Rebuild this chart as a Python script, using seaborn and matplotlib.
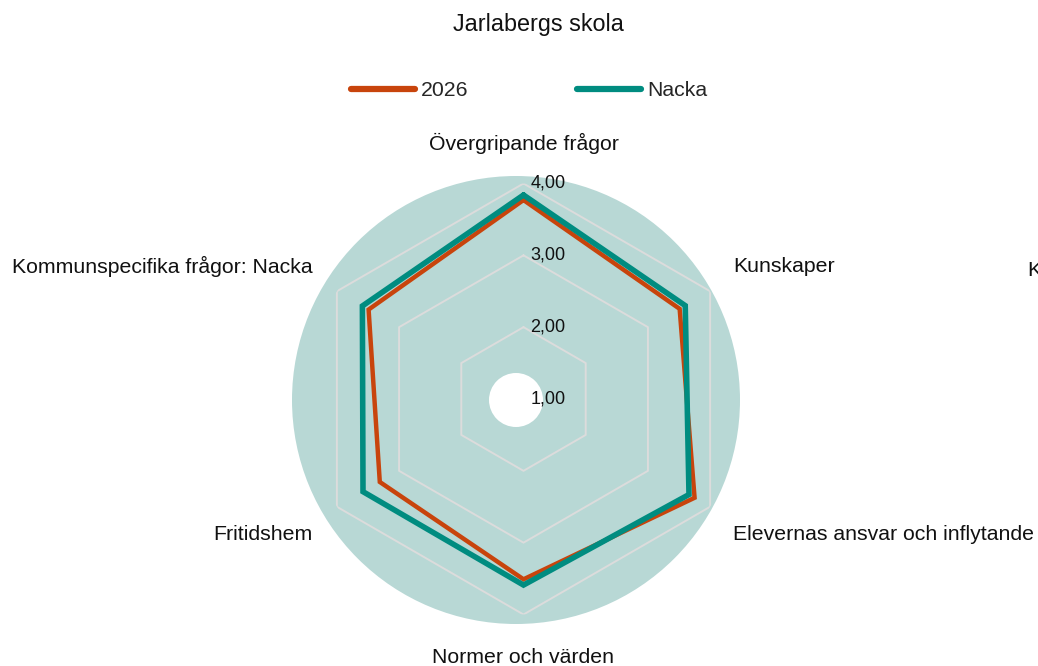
import numpy as np
import pandas as pd
import matplotlib
matplotlib.use("Agg")
import matplotlib.pyplot as plt
from matplotlib.patches import Circle
import seaborn as sns

# data
kategorier = ["Övergripande frågor", "Kunskaper", "Elevernas ansvar och inflytande",
              "Normer och värden", "Fritidshem", "Kommunspecifika frågor: Nacka"]
skola_2026 = [3.77, 3.51, 3.75, 3.51, 3.31, 3.49]
nacka = [3.84, 3.60, 3.66, 3.59, 3.58, 3.59]
r_ticks = [1, 2, 3, 4]
r_labels = ["1,00", "2,00", "3,00", "4,00"]

sns.set_theme(style="white")
plt.rcParams["font.family"] = ["Liberation Sans", "DejaVu Sans"]

ORANGE = "#c8440c"
TEAL = "#008c80"
BG = "#b8d8d5"
GRID = "#dcdcdc"

fig = plt.figure(figsize=(10.38, 6.66), dpi=100)

# bakgrundscirkel med hål i mitten
fig.add_artist(Circle((5.16, 2.66), 2.24, transform=fig.dpi_scale_trans,
                      facecolor=BG, edgecolor="none", zorder=-2))
fig.add_artist(Circle((5.16, 2.66), 0.27, transform=fig.dpi_scale_trans,
                      facecolor="white", edgecolor="none", zorder=-1))

R = 215.5
cx, cy = 523.5, 399
ax = fig.add_axes([(cx - R) / 1038, (666 - cy - R) / 666, 2 * R / 1038, 2 * R / 666],
                  projection="polar")
ax.set_facecolor("none")
ax.set_theta_offset(np.pi / 2)
ax.set_theta_direction(-1)
ax.set_ylim(1, 4)
ax.grid(False)
ax.spines["polar"].set_visible(False)
ax.set_xticks([])
ax.set_yticks([])

n = len(kategorier)
vinklar = np.arange(n) * 2 * np.pi / n
slutna = np.append(vinklar, 2 * np.pi)

# hexagonala stödlinjer
for r in r_ticks:
    ax.plot(slutna, [r] * (n + 1), color=GRID, lw=1.4, zorder=1)

df = pd.DataFrame({
    "vinkel": np.concatenate([slutna, slutna]),
    "varde": skola_2026 + skola_2026[:1] + nacka + nacka[:1],
    "serie": ["2026"] * (n + 1) + ["Nacka"] * (n + 1),
})
sns.lineplot(data=df[df.serie == "2026"], x="vinkel", y="varde", sort=False,
             estimator=None, color=ORANGE, lw=3.2, ax=ax, label="2026", zorder=3,
             solid_joinstyle="miter")
sns.lineplot(data=df[df.serie == "Nacka"], x="vinkel", y="varde", sort=False,
             estimator=None, color=TEAL, lw=4.0, ax=ax, label="Nacka", zorder=4,
             solid_joinstyle="miter")
ax.set_xlabel("")
ax.set_ylabel("")
ax.get_legend().remove()

for r, lab in zip(r_ticks, r_labels):
    ax.annotate(lab, xy=(0, r), xytext=(7, 0), textcoords="offset pixels",
                ha="left", va="center", fontsize=13, color="#111111", zorder=5)

offsets = [(0, 40, "center"), (23, 25, "left"), (23, -28, "left"),
           (0, -43, "center"), (-24, -28, "right"), (-24, 25, "right")]
for v, lab, (dx, dy, ha) in zip(vinklar, kategorier, offsets):
    ax.annotate(lab, xy=(v, 4), xytext=(dx, dy), textcoords="offset pixels",
                ha=ha, va="center", fontsize=15.3, color="#111111",
                annotation_clip=False)

handles, labels = ax.get_legend_handles_labels()
leg = fig.legend(handles, labels, loc="center", bbox_to_anchor=(529 / 1038, 1 - 91 / 666),
                 ncol=2, frameon=False, fontsize=15.3, handlelength=3.0,
                 handletextpad=0.3, columnspacing=5.1)
for h in leg.get_lines():
    h.set_solid_capstyle("round")
    h.set_linewidth(4.5)

fig.text(538 / 1038, 1 - 24 / 666, "Jarlabergs skola", ha="center", va="center",
         fontsize=16.8, color="#111111")
fig.text(1027 / 1038, 1 - 270 / 666, "K", ha="left", va="center", fontsize=15.3,
         color="#111111")

fig.savefig("out.png", dpi=100)
